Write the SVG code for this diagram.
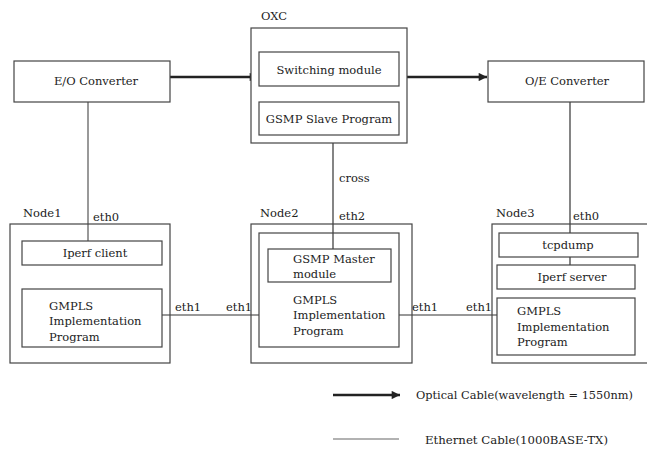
<svg xmlns="http://www.w3.org/2000/svg" width="647" height="450" viewBox="0 0 647 450">
<style>
.b{fill:#fff;stroke:#444;stroke-width:1.2}
.t{font-family:'DejaVu Serif','Liberation Serif',serif;font-size:11.5px;fill:#222}
.e{fill:none;stroke:#333;stroke-width:1.2}
.o{fill:none;stroke:#222;stroke-width:2.6}
</style>
<defs>
<marker id="ah" viewBox="0 0 10 10" refX="10" refY="5" markerWidth="4" markerHeight="3.2" orient="auto" markerUnits="strokeWidth">
<path d="M0,0L10,5L0,10z" fill="#222"/>
</marker>
</defs>
<rect width="647" height="450" fill="#fff"/>
<g id="connectors">
<line class="o" x1="170" y1="77" x2="258" y2="77" marker-end="url(#ah)"/>
<line class="o" x1="399" y1="77" x2="487" y2="77" marker-end="url(#ah)"/>
<line x1="88" y1="102" x2="88" y2="241" style="stroke:#777;stroke-width:1.5"/>
<line class="e" x1="333" y1="135" x2="333" y2="249"/>
<line class="e" x1="570" y1="102" x2="570" y2="233"/>
<line class="e" x1="570" y1="257" x2="570" y2="265"/>
<line class="e" x1="162" y1="315" x2="259" y2="315"/>
<line class="e" x1="399" y1="315" x2="497" y2="315"/>
<text class="t" x="339" y="182">cross</text>
<text class="t" x="93" y="221">eth0</text>
<text class="t" x="339" y="220">eth2</text>
<text class="t" x="573" y="220">eth0</text>
<text class="t" x="175" y="311">eth1</text>
<text class="t" x="226" y="311">eth1</text>
<text class="t" x="412" y="311">eth1</text>
<text class="t" x="466" y="311">eth1</text>
</g>
<g id="eo">
<rect class="b" x="14" y="61" width="156" height="41"/>
<text class="t" x="96" y="85" text-anchor="middle">E/O Converter</text>
</g>
<g id="oxc">
<text class="t" x="261" y="20">OXC</text>
<rect class="b" x="251" y="28" width="156" height="115"/>
<rect class="b" x="259" y="52" width="140" height="34"/>
<text class="t" x="329" y="74" text-anchor="middle">Switching module</text>
<rect class="b" x="259" y="102" width="140" height="33"/>
<text class="t" x="329" y="123" text-anchor="middle">GSMP Slave Program</text>
</g>
<g id="oe">
<rect class="b" x="488" y="61" width="156" height="41"/>
<text class="t" x="567" y="85" text-anchor="middle">O/E Converter</text>
</g>
<g id="node1">
<text class="t" x="23" y="217">Node1</text>
<rect class="b" x="10" y="224" width="160" height="139" style="fill:none"/>
<rect class="b" x="22" y="241" width="140" height="24"/>
<text class="t" x="95" y="257" text-anchor="middle">Iperf client</text>
<rect class="b" x="22" y="289" width="140" height="58"/>
<text class="t" x="49" y="310">GMPLS</text>
<text class="t" x="49" y="325">Implementation</text>
<text class="t" x="49" y="341">Program</text>
</g>
<g id="node2">
<text class="t" x="260" y="217">Node2</text>
<rect class="b" x="251" y="224" width="161" height="139" style="fill:none"/>
<rect class="b" x="259" y="233" width="140" height="114" style="fill:none"/>
<rect class="b" x="268" y="249" width="123" height="33"/>
<text class="t" x="293" y="263">GSMP Master</text>
<text class="t" x="293" y="278">module</text>
<text class="t" x="293" y="304">GMPLS</text>
<text class="t" x="293" y="319">Implementation</text>
<text class="t" x="293" y="335">Program</text>
</g>
<g id="node3">
<text class="t" x="496" y="217">Node3</text>
<rect class="b" x="492" y="224" width="160" height="139" style="fill:none"/>
<rect class="b" x="499" y="233" width="139" height="24"/>
<text class="t" x="568" y="249" text-anchor="middle">tcpdump</text>
<rect class="b" x="497" y="265" width="138" height="24"/>
<text class="t" x="572" y="281" text-anchor="middle">Iperf server</text>
<rect class="b" x="497" y="298" width="138" height="57"/>
<text class="t" x="517" y="315">GMPLS</text>
<text class="t" x="517" y="331">Implementation</text>
<text class="t" x="517" y="346">Program</text>
</g>
<g id="legend">
<line class="o" x1="333" y1="395" x2="400" y2="395" marker-end="url(#ah)"/>
<text class="t" x="416" y="399" textLength="217" lengthAdjust="spacingAndGlyphs">Optical Cable(wavelength = 1550nm)</text>
<line x1="333" y1="439" x2="399" y2="439" style="stroke:#666;stroke-width:1.2"/>
<text class="t" x="425" y="444" textLength="183" lengthAdjust="spacingAndGlyphs">Ethernet Cable(1000BASE-TX)</text>
</g>
</svg>
